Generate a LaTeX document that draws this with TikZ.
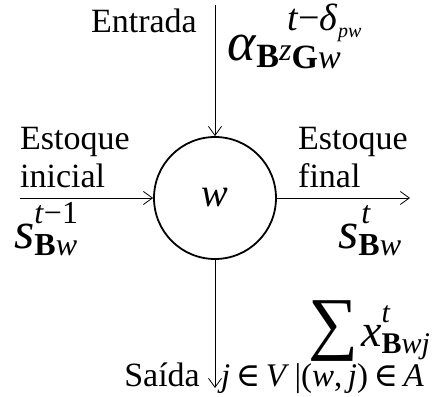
\documentclass[tikz,border=0pt]{standalone}
\usepackage{fontspec}
\usepackage{graphicx}
\setmainfont{Liberation Serif}
\newfontfamily\symfont{DejaVu Serif}
\usetikzlibrary{arrows.meta}
\newcommand\fs[2]{{\fontsize{#1}{#1}\selectfont #2}}
\newcommand\elem{{\symfont ∈}}
\begin{document}
\begin{tikzpicture}[x=1pt,y=1pt,
  flow/.style={draw,line width=0.8pt,-{Straight Barb[length=9pt,width=13pt,line width=0.8pt]}},
  lbl/.style={inner sep=0pt,font=\fontsize{34}{36}\selectfont},
  mth/.style={inner sep=0pt}]
\useasboundingbox (0,0) rectangle (432,397);
\node[circle,draw,line width=1.8pt,minimum size=122pt,inner sep=0pt] (c) at (215,199) {\fs{40}{\textit{w}}};
\coordinate (tin) at (215,392);
\coordinate (tout) at (215,9);
\coordinate (lin) at (20,199);
\coordinate (rout) at (410,199);
\draw[flow] (tin) -- (c.north);
\draw[flow] (c.south) -- (tout);
\draw[flow] (lin) -- (c.west);
\draw[flow] (c.east) -- (rout);
\node[lbl,anchor=base east] (entrada) at (197,364) {Entrada};
\node[lbl,anchor=base west] (ei1) at (20,247) {Estoque};
\node[lbl,anchor=base west] (ei2) at (20,209) {inicial};
\node[lbl,anchor=base west] (ef1) at (298,247) {Estoque};
\node[lbl,anchor=base west] (ef2) at (298,209) {final};
\node[lbl,anchor=base east] (saida) at (200,10) {Saída};
\node[mth,anchor=base west] (alpha) at (227,336) {\fs{54}{\textit{α}}\raisebox{-7pt}{\fs{34}{\textbf{B}}}\rlap{\hspace{8pt}\raisebox{30pt}{\fs{38}{\textit{t}−\textit{δ}}\raisebox{-7pt}{\fs{20}{\textit{pw}}}}}\fs{32}{\textit{z}}\raisebox{-8pt}{\fs{34}{\textbf{G}\textit{w}}}};
\node[mth,anchor=base west] (sl) at (14,148) {\fs{52}{\textit{s}}\rlap{\raisebox{25pt}{\fs{32}{\textit{t}−1}}}\raisebox{-7pt}{\fs{32}{\textbf{B}\textit{w}}}};
\node[mth,anchor=base west] (sr) at (338,148) {\fs{52}{\textit{s}}\rlap{\raisebox{25pt}{\fs{32}{\hspace{3pt}\textit{t}}}}\raisebox{-7pt}{\fs{32}{\textbf{B}\textit{w}}}};
\node[mth,anchor=base west] (sum) at (308,50) {\fs{70}{∑}\hspace{3pt}\fs{46}{\textit{x}}\rlap{\raisebox{24pt}{\fs{30}{\textit{t}}}}\raisebox{-7pt}{\fs{30}{\textbf{B}\textit{wj}}}};
\node[mth,anchor=base west] (sumsub) at (221,10) {\fs{33}{\textit{j}\,\elem\,\textit{V}\,|(\textit{w},\,\textit{j})\,\elem\,\textit{A}}};
\end{tikzpicture}
\end{document}
